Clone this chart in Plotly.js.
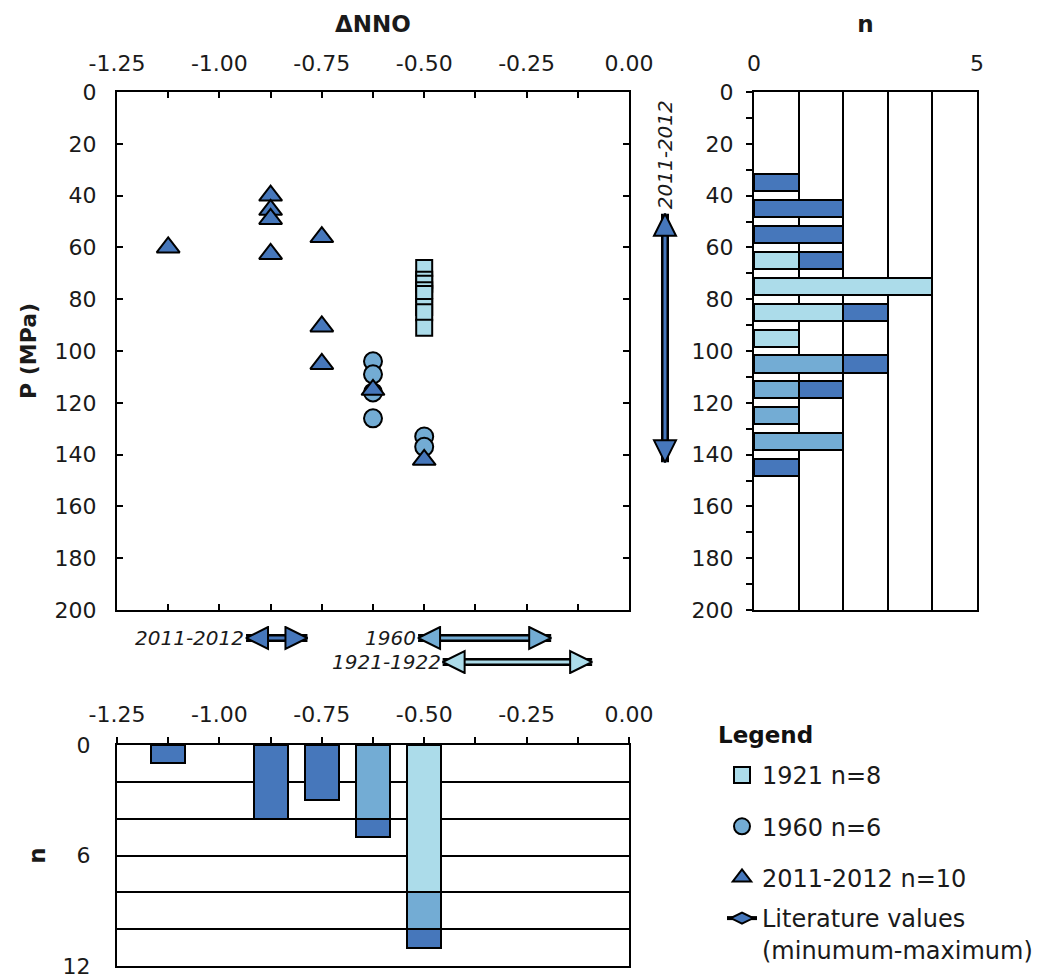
<!DOCTYPE html>
<html><head><meta charset="utf-8">
<script src="https://cdn.plot.ly/plotly-3.0.1.min.js"></script>
<style>html,body{margin:0;padding:0;background:#fff;} #chart{width:1055px;height:978px;}</style>
</head><body><div id="chart"></div>
<script>
// ---------- scatter data (ΔNNO vs P) ----------
const nno1921 = [-0.5, -0.5, -0.5, -0.5, -0.5, -0.5, -0.5, -0.5];
const p1921   = [68, 72.5, 74, 76.5, 78, 83, 85, 91];
const nno1960 = [-0.625, -0.625, -0.625, -0.625, -0.5, -0.5];
const p1960   = [104, 109, 116, 126, 133, 137];
const nno2011 = [-1.125, -0.875, -0.875, -0.875, -0.875, -0.75, -0.75, -0.75, -0.625, -0.5];
const p2011   = [60, 40, 45.5, 49, 62.5, 56, 90.5, 105, 115, 142];

// ---------- histogram of P (counts per 10 MPa bin) ----------
const pBins   = [35, 45, 55, 65, 75, 85, 95, 105, 115, 125, 135, 145];
const nP1921  = [0, 0, 0, 1, 4, 2, 1, 0, 0, 0, 0, 0];
const nP1960  = [0, 0, 0, 0, 0, 0, 0, 2, 1, 1, 2, 0];
const nP2011  = [1, 2, 2, 1, 0, 1, 0, 1, 1, 0, 0, 1];

// ---------- histogram of ΔNNO ----------
const nnoBins = [-1.125, -1.0, -0.875, -0.75, -0.625, -0.5];
const nN1921  = [0, 0, 0, 0, 0, 8];
const nN1960  = [0, 0, 0, 0, 4, 2];
const nN2011  = [1, 0, 4, 3, 1, 1];

// ---------- literature values (minimum-maximum) ----------
const litEras   = ['2011-2012', '1960', '1921-1922'];
const litNNOmin = [-0.935, -0.515, -0.455];
const litNNOmax = [-0.785, -0.19, -0.09];
const litRow    = [1, 1, 2];
const litPEra   = '2011-2012';
const litPmin   = 47;
const litPmax   = 143;

// ---------- series names / tick labels ----------
const seriesNames = ['1921 n=8', '1960 n=6', '2011-2012 n=10'];
const legendLit   = 'Literature values<br>(minumum-maximum)';
const legendTitle = 'Legend';
const nnoTickVals = [-1.25, -1.125, -1.0, -0.875, -0.75, -0.625, -0.5, -0.375, -0.25, -0.125, 0];
const nnoTickText = ['-1.25', '', '-1.00', '', '-0.75', '', '-0.50', '', '-0.25', '', '0.00'];
const pTickVals   = [0, 20, 40, 60, 80, 100, 120, 140, 160, 180, 200];
const pTickText   = ['0', '20', '40', '60', '80', '100', '120', '140', '160', '180', '200'];
const pHistVals   = [0,10,20,30,40,50,60,70,80,90,100,110,120,130,140,150,160,170,180,190,200];
const pHistText   = ['0','','20','','40','','60','','80','','100','','120','','140','','160','','180','','200'];
const nTopVals    = [0, 1, 2, 3, 4, 5];
const nTopText    = ['0', '', '', '', '', '5'];
const nBotVals    = [0, 2, 4, 6, 8, 10, 12];
const nBotText    = ['0', '', '', '6', '', '', '12'];

// ---------- styles ----------
const C1921 = '#acdcea', C1960 = '#73acd4', C2011 = '#4677bb';
const litColors = [C2011, C1960, C1921];
const FONT = 'DejaVu Sans';
const W = 1055, H = 978;
const px = v => v / W, py = v => (H - v) / H;
const outline = {color: '#000', width: 2};
const nz = arr => arr.map(v => (v === 0 ? null : v));

const traces = [];
// main scatter
traces.push({type: 'scatter', mode: 'markers', name: seriesNames[0], legendgroup: 'g1',
  x: nno1921, y: p1921, xaxis: 'x', yaxis: 'y',
  marker: {symbol: 'square', size: 16, color: C1921, line: outline}});
traces.push({type: 'scatter', mode: 'markers', name: seriesNames[1], legendgroup: 'g2',
  x: nno1960, y: p1960, xaxis: 'x', yaxis: 'y',
  marker: {symbol: 'circle', size: 18, color: C1960, line: outline}});
traces.push({type: 'scatter', mode: 'markers', name: seriesNames[2], legendgroup: 'g3',
  x: nno2011, y: p2011, xaxis: 'x', yaxis: 'y',
  marker: {symbol: 'triangle-up', size: 20, color: C2011, line: outline}});
// legend entry for literature arrows (second legend block)
traces.push({type: 'scatter', mode: 'lines+markers', name: legendLit, legend: 'legend2',
  x: [null], y: [null], xaxis: 'x', yaxis: 'y',
  line: {color: '#000', width: 4},
  marker: {symbol: 'diamond-wide', size: 16, color: C2011, line: outline}});

// right histogram (horizontal, stacked)
[[nP1921, C1921], [nP1960, C1960], [nP2011, C2011]].forEach(([v, c]) => {
  traces.push({type: 'bar', orientation: 'h', y: pBins, x: nz(v), width: 6.6,
    xaxis: 'x2', yaxis: 'y2', showlegend: false, hoverinfo: 'skip',
    marker: {color: c, line: outline}});
});
// bottom histogram (vertical, stacked)
[[nN1921, C1921], [nN1960, C1960], [nN2011, C2011]].forEach(([v, c]) => {
  traces.push({type: 'bar', x: nnoBins, y: nz(v), width: 0.083,
    xaxis: 'x3', yaxis: 'y3', showlegend: false, hoverinfo: 'skip',
    marker: {color: c, line: outline}});
});

// vertical literature arrow (P)
traces.push({type: 'scatter', mode: 'lines', x: [0.5, 0.5], y: [litPmin, litPmax],
  xaxis: 'x4', yaxis: 'y', showlegend: false, hoverinfo: 'skip',
  line: {color: '#000', width: 8}});
traces.push({type: 'scatter', mode: 'lines+markers', x: [0.5, 0.5], y: [litPmin, litPmax],
  xaxis: 'x4', yaxis: 'y', showlegend: false, hoverinfo: 'skip',
  line: {color: C2011, width: 3},
  marker: {symbol: ['arrow-up', 'arrow-down'], size: 22, color: C2011, line: outline}});

// horizontal literature arrows (ΔNNO)
litEras.forEach((e, i) => {
  traces.push({type: 'scatter', mode: 'lines', x: [litNNOmin[i], litNNOmax[i]], y: [litRow[i], litRow[i]],
    xaxis: 'x5', yaxis: 'y5', showlegend: false, hoverinfo: 'skip',
    line: {color: '#000', width: 8}});
  traces.push({type: 'scatter', mode: 'lines+markers', x: [litNNOmin[i], litNNOmax[i]], y: [litRow[i], litRow[i]],
    xaxis: 'x5', yaxis: 'y5', showlegend: false, hoverinfo: 'skip',
    line: {color: litColors[i], width: 3},
    marker: {symbol: ['arrow-left', 'arrow-right'], size: 22, color: litColors[i], line: outline}});
});

const annotations = [];
annotations.push({xref: 'x4', yref: 'y', x: 0.5, y: litPmin, text: '<i>' + litPEra + '</i>',
  textangle: -90, showarrow: false, yanchor: 'bottom', xanchor: 'center', yshift: 2,
  font: {family: FONT, size: 20, color: '#1a1a1a'}});
litEras.forEach((e, i) => {
  annotations.push({xref: 'x5', yref: 'y5', x: litNNOmin[i], y: litRow[i], text: '<i>' + e + '</i>',
    showarrow: false, xanchor: 'right', yanchor: 'middle', xshift: 0,
    font: {family: FONT, size: 20, color: '#1a1a1a'}});
});
annotations.push({xref: 'paper', yref: 'paper', x: px(716), y: py(735), text: '<b>' + legendTitle + '</b>',
  showarrow: false, xanchor: 'left', yanchor: 'middle',
  font: {family: FONT, size: 23, color: '#111'}});

const mainDomX = [px(117), px(629)];
const mainDomY = [py(610), py(92)];
const axLine = {showline: true, linewidth: 2, linecolor: '#000', zeroline: false, showgrid: false,
  tickcolor: '#000', tickwidth: 2, ticklabeloverflow: 'allow'};

const layout = {
  width: W, height: H, margin: {l: 0, r: 0, t: 0, b: 0, autoexpand: false},
  paper_bgcolor: '#fff', plot_bgcolor: '#fff',
  font: {family: FONT, size: 22, color: '#1a1a1a'},
  barmode: 'stack', bargap: 0, showlegend: true,
  xaxis: Object.assign({}, axLine, {domain: mainDomX, range: [-1.25, 0], side: 'top', anchor: 'y',
    tickmode: 'array', tickvals: nnoTickVals, ticktext: nnoTickText, ticks: 'inside', ticklen: 6,
    mirror: 'ticks', ticklabelstandoff: 10,
    title: {text: '<b>ΔNNO</b>', standoff: 12, font: {size: 23}}}),
  yaxis: Object.assign({}, axLine, {domain: mainDomY, range: [200, 0], anchor: 'x',
    tickmode: 'array', tickvals: pTickVals, ticktext: pTickText, ticks: 'inside', ticklen: 6,
    mirror: 'ticks', ticklabelstandoff: 14,
    title: {text: '<b>P (MPa)</b>', standoff: 12, font: {size: 22}}}),
  xaxis2: Object.assign({}, axLine, {domain: [px(754), px(977)], range: [0, 5], side: 'top', anchor: 'y2',
    tickmode: 'array', tickvals: nTopVals, ticktext: nTopText, ticks: '', mirror: true,
    showgrid: true, gridcolor: '#000', gridwidth: 2, ticklabelstandoff: 10,
    title: {text: '<b>n</b>', standoff: 12, font: {size: 23}}}),
  yaxis2: Object.assign({}, axLine, {domain: mainDomY, range: [200, 0], anchor: 'x2',
    tickmode: 'array', tickvals: pHistVals, ticktext: pHistText, ticks: 'outside', ticklen: 6,
    mirror: true, ticklabelstandoff: 8}),
  xaxis3: Object.assign({}, axLine, {domain: mainDomX, range: [-1.25, 0], side: 'top', anchor: 'y3',
    tickmode: 'array', tickvals: nnoTickVals, ticktext: nnoTickText, ticks: 'outside', ticklen: 6,
    mirror: true, ticklabelstandoff: 6}),
  yaxis3: Object.assign({}, axLine, {domain: [py(966), py(745)], range: [12, 0], anchor: 'x3',
    tickmode: 'array', tickvals: nBotVals, ticktext: nBotText, ticks: '', mirror: true,
    showgrid: true, gridcolor: '#000', gridwidth: 2, ticklabelstandoff: 20,
    title: {text: '<b>n</b>', standoff: 11, font: {size: 23}}}),
  xaxis4: {domain: [px(640), px(690)], range: [0, 1], anchor: 'y', visible: false, fixedrange: true},
  xaxis5: {domain: mainDomX, range: [-1.25, 0], anchor: 'y5', visible: false},
  yaxis5: {domain: [py(674), py(626)], range: [2.5, 0.5], anchor: 'x5', visible: false},
  legend: {x: px(722), y: py(753), xanchor: 'left', yanchor: 'top', traceorder: 'grouped',
    tracegroupgap: 17, valign: 'top', bgcolor: 'rgba(0,0,0,0)', font: {size: 24, color: '#1a1a1a'}},
  legend2: {x: px(722), y: py(896), xanchor: 'left', yanchor: 'top',
    valign: 'top', bgcolor: 'rgba(0,0,0,0)', font: {size: 24, color: '#1a1a1a'}},
  annotations: annotations
};

Plotly.newPlot('chart', traces, layout, {staticPlot: true});
</script>
</body></html>
